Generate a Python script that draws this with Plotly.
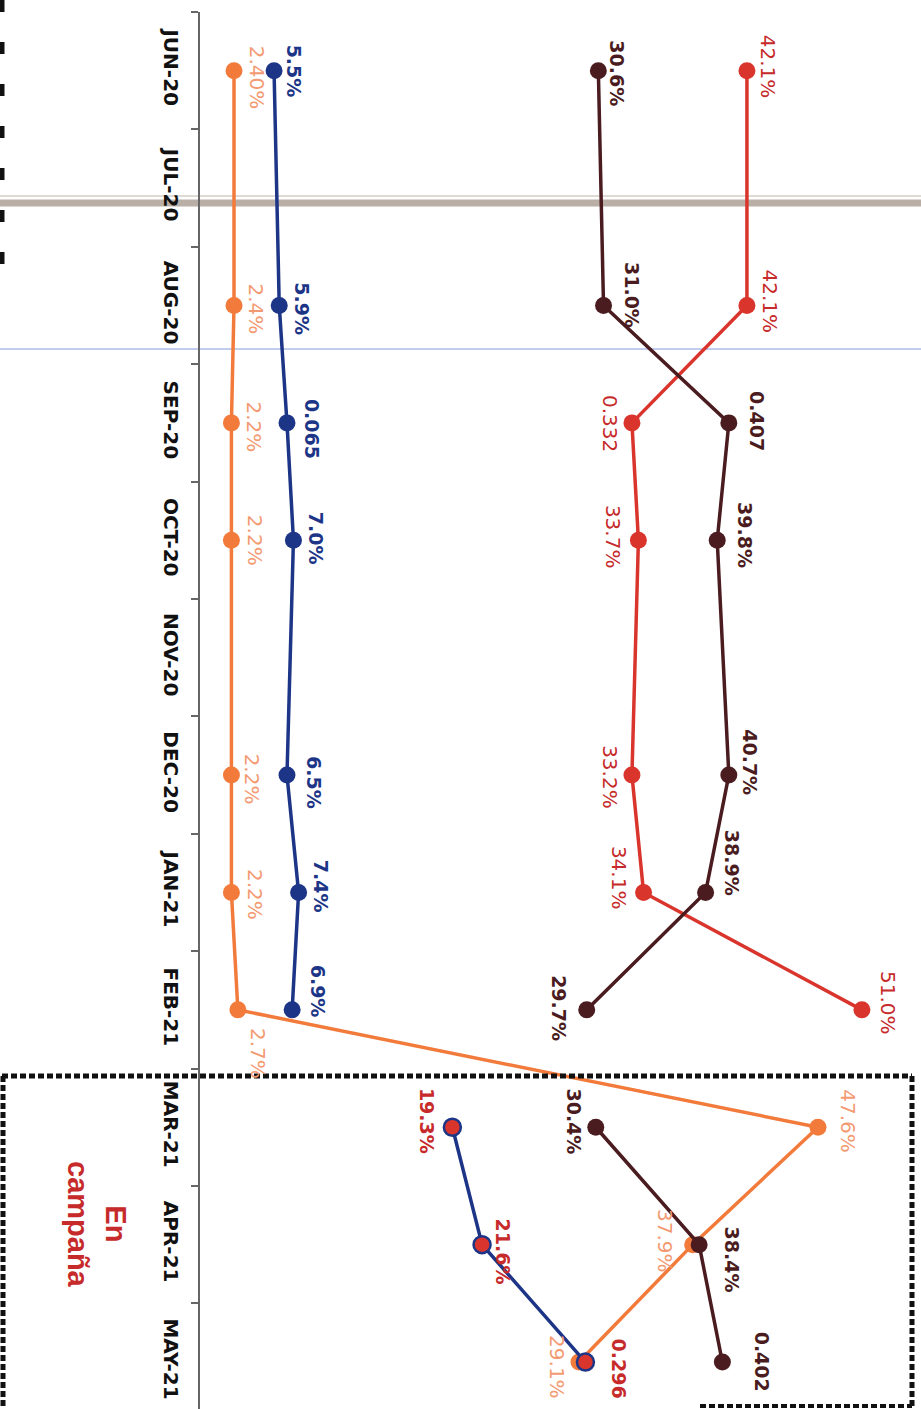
import plotly.graph_objects as go

# ---------------- data ----------------
months = ["JUN-20", "JUL-20", "AUG-20", "SEP-20", "OCT-20", "NOV-20",
          "DEC-20", "JAN-21", "FEB-21", "MAR-21", "APR-21", "MAY-21"]

pre_months = ["JUN-20", "AUG-20", "SEP-20", "OCT-20", "DEC-20", "JAN-21", "FEB-21"]
camp_months = ["MAR-21", "APR-21", "MAY-21"]

red_pre = [42.1, 42.1, 33.2, 33.7, 33.2, 34.1, 51.0]
red_pre_labels = ["42.1%", "42.1%", "0.332", "33.7%", "33.2%", "34.1%", "51.0%"]

dark_pre = [30.6, 31.0, 40.7, 39.8, 40.7, 38.9, 29.7]
dark_pre_labels = ["30.6%", "31.0%", "0.407", "39.8%", "40.7%", "38.9%", "29.7%"]

blue_pre = [5.5, 5.9, 6.5, 7.0, 6.5, 7.4, 6.9]
blue_pre_labels = ["5.5%", "5.9%", "0.065", "7.0%", "6.5%", "7.4%", "6.9%"]

orange_months = pre_months + camp_months
orange_vals = [2.4, 2.4, 2.2, 2.2, 2.2, 2.2, 2.7, 47.6, 37.9, 29.1]
orange_labels = ["2.40%", "2.4%", "2.2%", "2.2%", "2.2%", "2.2%", "2.7%", "47.6%", "37.9%", "29.1%"]

dark_camp = [30.4, 38.4, 40.2]
dark_camp_labels = ["30.4%", "38.4%", "0.402"]

blue_camp = [19.3, 21.6, 29.6]
blue_camp_labels = ["19.3%", "21.6%", "0.296"]

campaign_text = "En<br>campaña"

# ---------------- style ----------------
RED = "#d9352d"
RED_TXT = "#c62a2a"
DARK = "#4a1c20"
BLUE = "#1d3587"
ORANGE = "#f27b3c"
ORANGE_TXT = "#f39a72"
LABEL_FONT = "DejaVu Sans, Liberation Sans, Arial"

# label offsets in pixels (dx right, dy down)
off_red = [(21, -4), (23, -4), (-22, 1), (-26, -3), (-22, 2), (-25, -15), (26, -7)]
off_dark = [(19, 3), (28, -11), (28, -2), (27, -5), (21, -13), (26, -30), (-28, -2)]
off_blue = [(20, 0), (22, 3), (25, 6), (22, -2), (27, 8), (22, -6), (26, -19)]
off_orange = [(23, 7), (21, 3), (23, 4), (23, 0), (21, 4), (23, 2), (20, 44), (30, -6), (-27, -4), (-22, 5)]
off_dark_c = [(-22, -6), (33, 15), (40, 0)]
off_blue_c = [(-26, -6), (21, 7), (34, 7)]

fig = go.Figure()


def add_line(xs, ys, color, mfill=None, mline=None):
    fig.add_trace(go.Scatter(
        x=xs, y=ys, mode="lines+markers",
        line=dict(color=color, width=3.5),
        marker=dict(size=17, color=mfill or color,
                    line=dict(color=mline or (mfill or color), width=2.5 if mline else 0)),
        showlegend=False, hoverinfo="skip"))


add_line(orange_vals, orange_months, ORANGE)
add_line(red_pre, pre_months, RED)
add_line(dark_pre, pre_months, DARK)
add_line(blue_pre, pre_months, BLUE)
add_line(dark_camp, camp_months, DARK)
add_line(blue_camp, camp_months, BLUE, mfill=RED, mline=BLUE)


def add_labels(vals, mons, labels, offs, color, bold):
    for v, m, t, (dx, dy) in zip(vals, mons, labels, offs):
        fig.add_annotation(
            x=v, y=m, text=("<b>%s</b>" % t) if bold else t, showarrow=False,
            textangle=90, xshift=dx, yshift=-dy, xanchor="center", yanchor="middle",
            font=dict(family=LABEL_FONT, size=19 if bold else 20, color=color))


add_labels(red_pre, pre_months, red_pre_labels, off_red, RED_TXT, False)
add_labels(dark_pre, pre_months, dark_pre_labels, off_dark, DARK, True)
add_labels(blue_pre, pre_months, blue_pre_labels, off_blue, BLUE, True)
add_labels(orange_vals, orange_months, orange_labels, off_orange, ORANGE_TXT, False)
add_labels(dark_camp, camp_months, dark_camp_labels, off_dark_c, DARK, True)
add_labels(blue_camp, camp_months, blue_camp_labels, off_blue_c, RED_TXT, True)

W, H = 921, 1409
L, T = 200, 12
pw, ph = W - L, H - T


def px(x):
    return (x - L) / pw


def py(y):
    return 1 - (y - T) / ph


# "En campaña" note
fig.add_annotation(xref="paper", yref="paper", x=px(97), y=py(1224),
                   xanchor="center", yanchor="middle",
                   text="<b>%s</b>" % campaign_text, showarrow=False, textangle=90,
                   font=dict(family="Liberation Sans, Arial", size=29, color="#c62a2a"))

shapes = [
    # scan fold line
    dict(type="line", xref="paper", yref="paper", x0=px(0), x1=px(W), y0=py(196), y1=py(196),
         line=dict(color="#d6cec6", width=1.5), layer="below"),
    dict(type="line", xref="paper", yref="paper", x0=px(0), x1=px(W), y0=py(203), y1=py(203),
         line=dict(color="#b9afa7", width=7), layer="below"),
    # thin blue line
    dict(type="line", xref="paper", yref="paper", x0=px(0), x1=px(W), y0=py(349), y1=py(349),
         line=dict(color="#aebde8", width=1.5), layer="below"),
    # dotted campaign box
    dict(type="line", xref="paper", yref="paper", x0=px(2), x1=px(912), y0=py(1076), y1=py(1076),
         line=dict(color="#111", width=5, dash="6px,3px")),
    dict(type="line", xref="paper", yref="paper", x0=px(912), x1=px(912), y0=py(1076), y1=py(1406),
         line=dict(color="#111", width=5, dash="6px,3px")),
    dict(type="line", xref="paper", yref="paper", x0=px(700), x1=px(912), y0=py(1406), y1=py(1406),
         line=dict(color="#111", width=4, dash="6px,3px")),
    dict(type="line", xref="paper", yref="paper", x0=px(3), x1=px(3), y0=py(1076), y1=py(1409),
         line=dict(color="#111", width=5, dash="6px,3px")),
    # left-edge scan marks
    dict(type="line", xref="paper", yref="paper", x0=px(2), x1=px(2), y0=py(0), y1=py(290),
         line=dict(color="#111", width=5, dash="12px,30px")),
]

fig.update_layout(
    width=W, height=H,
    margin=dict(l=L, r=0, t=T, b=0, autoexpand=False),
    paper_bgcolor="white", plot_bgcolor="rgba(0,0,0,0)",
    shapes=shapes,
    xaxis=dict(visible=False, range=[-3 / 12.92, (W - 203) / 12.92]),
    yaxis=dict(
        type="category", categoryorder="array", categoryarray=months,
        range=[11.4, -0.5], showgrid=False, zeroline=False, automargin=False,
        showline=True, linecolor="#666", linewidth=2,
        ticks="outside", ticklen=7, tickwidth=1.5, tickcolor="#666",
        tickson="boundaries", tickangle=90, ticklabelstandoff=10,
        tickfont=dict(family="DejaVu Sans, Liberation Sans, Arial", size=20, color="#111"),
        tickvals=months, ticktext=["<b>%s</b>" % m for m in months],
    ),
)

# remove the default 8px page margin so the figure sits at the window origin
fig.write_html("out.html", config={"displayModeBar": False},
               post_script="document.body.style.margin='0px';")
